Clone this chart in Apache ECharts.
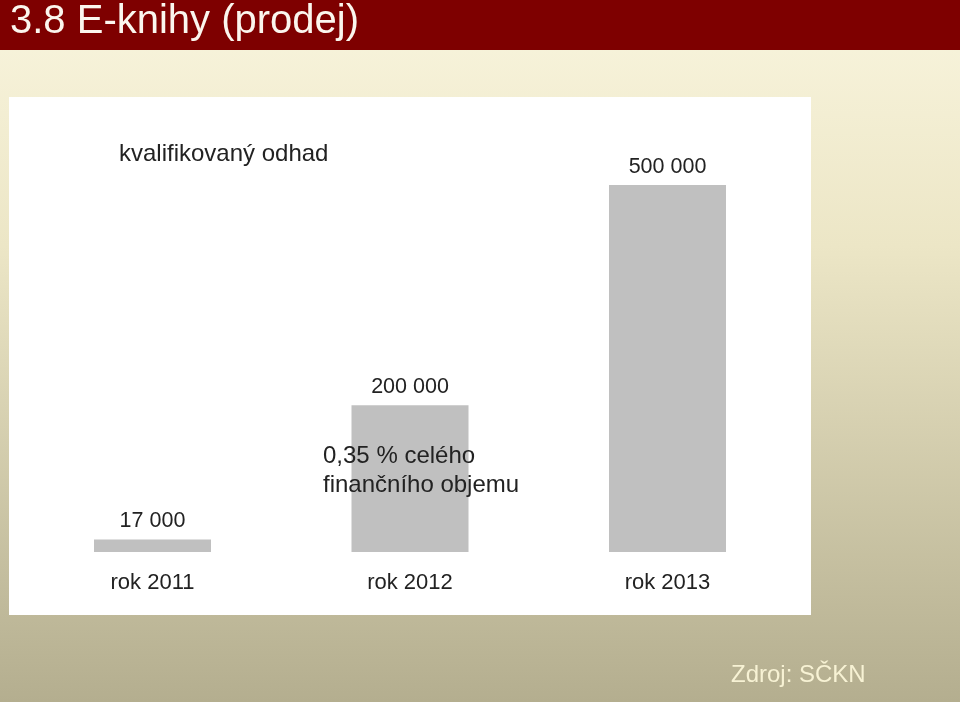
<!DOCTYPE html>
<html>
<head>
<meta charset="utf-8">
<style>
html,body{margin:0;padding:0;width:960px;height:702px;overflow:hidden;}
#chart{width:960px;height:702px;}
</style>
<script src="https://cdn.jsdelivr.net/npm/echarts@6/dist/echarts.min.js"></script>
</head>
<body>
<div id="chart"></div>
<script>
var categories = ['rok 2011', 'rok 2012', 'rok 2013'];
var sales = [17000, 200000, 500000];
var titleText = '3.8 E-knihy (prodej)';
var noteEstimate = 'kvalifikovaný odhad';
var noteShare = '0,35 % celého\nfinančního objemu';
var sourceText = 'Zdroj: SČKN';

function fmt(v) {
  return String(v).replace(/\B(?=(\d{3})+(?!\d))/g, ' ');
}

var FONT = '"Liberation Sans", Arial, sans-serif';
var chart = echarts.init(document.getElementById('chart'), null, {renderer: 'canvas'});
chart.setOption({
  animation: false,
  graphic: [
    {type: 'rect', z: -10, shape: {x: 0, y: 0, width: 960, height: 702},
     style: {fill: new echarts.graphic.LinearGradient(0, 0, 0, 1, [
       {offset: 0, color: '#f9f5de'},
       {offset: 0.35, color: '#ece6c6'},
       {offset: 1, color: '#b4ae8f'}
     ])}},
    {type: 'rect', z: -9, shape: {x: 0, y: 0, width: 960, height: 50}, style: {fill: '#7e0000'}},
    {type: 'text', z: 5, style: {text: titleText, x: 10, y: 22, fill: '#fbf6ee', font: '40px ' + FONT, textVerticalAlign: 'middle'}},
    {type: 'rect', z: -8, shape: {x: 9, y: 97, width: 802, height: 518}, style: {fill: '#ffffff'}},
    {type: 'text', z: 5, style: {text: noteEstimate, x: 119, y: 154, fill: '#222222', font: '24px ' + FONT, textVerticalAlign: 'middle'}},
    {type: 'text', z: 100, style: {text: noteShare, x: 323, y: 471, fill: '#222222', font: '24px ' + FONT, lineHeight: 29, textVerticalAlign: 'middle'}},
    {type: 'text', z: 5, style: {text: sourceText, x: 731, y: 675, fill: '#f7f2d4', font: '24px ' + FONT, textVerticalAlign: 'middle'}}
  ],
  grid: {left: 23.75, right: 163.75, top: 185, bottom: 150, containLabel: false},
  xAxis: {
    type: 'category', data: categories,
    axisLine: {show: false}, axisTick: {show: false},
    axisLabel: {color: '#222222', fontSize: 22, fontFamily: FONT, margin: 20}
  },
  yAxis: {type: 'value', min: 0, max: 500000, show: false, splitLine: {show: false}},
  series: [{
    type: 'bar', data: sales, barWidth: 117, z: 2,
    itemStyle: {color: '#c0c0c0'},
    label: {show: true, position: 'top', distance: 7, color: '#222222', fontSize: 21.5, fontFamily: FONT,
      formatter: function (p) { return fmt(p.value); }}
  }]
});
</script>
</body>
</html>
